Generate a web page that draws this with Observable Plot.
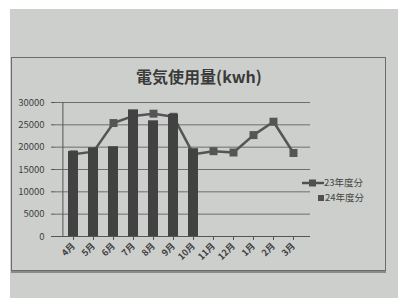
<!DOCTYPE html>
<html><head><meta charset="utf-8">
<script src="https://cdn.jsdelivr.net/npm/d3@7"></script>
<script src="https://cdn.jsdelivr.net/npm/@observablehq/plot@0.6"></script>
<style>
html,body{margin:0;padding:0;width:398px;height:300px;overflow:hidden;background:#fff;font-family:"Noto Sans CJK JP","DejaVu Sans",sans-serif;}
#paper{position:absolute;left:10px;top:9px;width:388px;height:289px;background:#cdcfcd;}
#box{position:absolute;left:11px;top:57px;width:373px;height:212px;border:1.5px solid #6a6c6a;box-shadow:0 2px 0 #8a8c8a;}
#title{position:absolute;left:0;width:398px;top:64px;text-align:center;font-size:16px;font-weight:bold;color:#3a3a3a;}
#chart{position:absolute;left:0;top:0;}
.leg{position:absolute;font-size:9.5px;color:#444;}
</style></head><body>
<div id="paper"></div><div id="box"></div>
<div id="title">電気使用量(kwh)</div>
<div id="chart"></div>
<div class="leg" style="left:302px;top:175px;"><svg width="22" height="10" style="vertical-align:middle"><line x1="0" y1="5" x2="22" y2="5" stroke="#505050" stroke-width="2.5"/><rect x="7" y="1.5" width="7" height="7" fill="#505050"/></svg>23年度分</div>
<div class="leg" style="left:318px;top:190px;"><svg width="7" height="10" style="vertical-align:middle"><rect x="0" y="2" width="6" height="6" fill="#505050"/></svg>24年度分</div>
<script>
const months = ["4月","5月","6月","7月","8月","9月","10月","11月","12月","1月","2月","3月"];
const fy23 = [18400,19000,25400,27000,27500,26800,18400,19100,18800,22700,25700,18700];
const fy24 = [19000,19800,20100,28300,25900,27300,19600,null,null,null,null,null];
const yTicks = [0,5000,10000,15000,20000,25000,30000];

const rows23 = months.map((m,i)=>({m, v:fy23[i]}));
const rows24 = months.map((m,i)=>({m, v:fy24[i]})).filter(d=>d.v!=null);

const plot = Plot.plot({
  width:398, height:300,
  marginLeft:55, marginRight:88, marginTop:102, marginBottom:64,
  style:{background:"transparent", fontFamily:"'Noto Sans CJK JP', 'DejaVu Sans', sans-serif", color:"#404040"},
  x:{domain:months, padding:0.5, label:null},
  y:{domain:[0,30000], label:null},
  marks:[
    Plot.gridY(yTicks.filter(t=>t>0), {stroke:"#555", strokeOpacity:0.8, strokeWidth:1}),
    Plot.barY(rows24, {x:"m", y:"v", fill:"#424242"}),
    Plot.line(rows23, {x:"m", y:"v", stroke:"#555", strokeWidth:2.5}),
    Plot.dot(rows23, {x:"m", y:"v", symbol:"square", r:4.5, fill:"#555"}),
    Plot.barY(rows24, {x:"m", y:"v", fill:"#424242", filter:(d,i)=>[0,1,3,5,6].includes(i)}),
    Plot.ruleX([months[0]], {stroke:"#555", dx:-10.6}),
    Plot.ruleY([0], {stroke:"#555"}),
    Plot.axisY({ticks:yTicks, tickFormat:d3.format("d"), tickSize:4, fontSize:9.5, tickPadding:7, label:null, stroke:"#555"}),
    Plot.axisX({tickRotate:-45, tickSize:4, fontSize:9, fontWeight:"bold", tickPadding:4, label:null, stroke:"#555"})
  ]
});
document.getElementById("chart").appendChild(plot);
</script>
</body></html>
